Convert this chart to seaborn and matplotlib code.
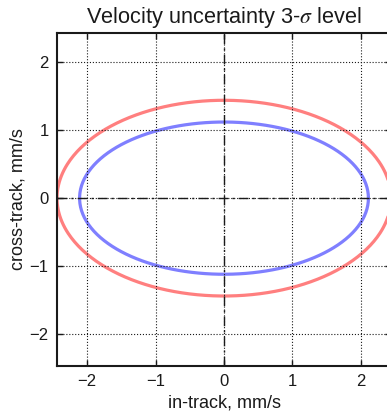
import numpy as np
import pandas as pd
import matplotlib
matplotlib.use("Agg")
import matplotlib.pyplot as plt
import seaborn as sns

# Data: ellipse semi-axes (mm/s)
names = ["outer", "inner"]
semi_in_track = [2.44, 2.11]
semi_cross_track = [1.44, 1.12]
colors = ["#ff7f7f", "#7f7fff"]
ticks = [-2, -1, 0, 1, 2]
limits = (-2.44, 2.44)

sns.set_theme(style="white")
plt.rcParams["font.family"] = ["Liberation Sans", "DejaVu Sans"]
plt.rcParams["mathtext.fontset"] = "stix"

fig = plt.figure(figsize=(3.87, 4.12), dpi=100)
ax = fig.add_axes([57 / 387, (412 - 366) / 412, (391 - 57) / 387, (366 - 33) / 412])

t = np.linspace(0, 2 * np.pi, 400)
rows = []
for n, a, b in zip(names, semi_in_track, semi_cross_track):
    df = pd.DataFrame({"x": a * np.cos(t), "y": b * np.sin(t), "name": n})
    rows.append(df)
data = pd.concat(rows, ignore_index=True)

sns.lineplot(data=data, x="x", y="y", hue="name", palette=colors, sort=False,
             estimator=None, units="name", linewidth=2.3, legend=False, ax=ax)

ax.axhline(0, color="k", linestyle=(0, (7, 3, 1.5, 3)), linewidth=1)
ax.axvline(0, color="k", linestyle=(0, (7, 3, 1.5, 3)), linewidth=1)

ax.set_xlim(*limits)
ax.set_ylim(-2.47, 2.43)
ax.set_xticks(ticks)
ax.set_yticks(ticks)
ax.grid(True, color="k", linestyle=":", linewidth=0.8)
ax.set_axisbelow(False)

for s in ax.spines.values():
    s.set_color("k")
    s.set_linewidth(1.5)
ax.tick_params(direction="in", length=4, width=1, colors="k", labelsize=12,
               top=True, right=True, bottom=True, left=True, pad=6)

ax.set_xlabel("in-track, mm/s", fontsize=13, color="k", labelpad=4)
ax.set_ylabel("cross-track, mm/s", fontsize=13, color="k", labelpad=2)
ax.set_title(r"Velocity uncertainty 3-$\sigma$ level", fontsize=15.7, color="k", pad=7)

fig.savefig("out.png", dpi=100)
